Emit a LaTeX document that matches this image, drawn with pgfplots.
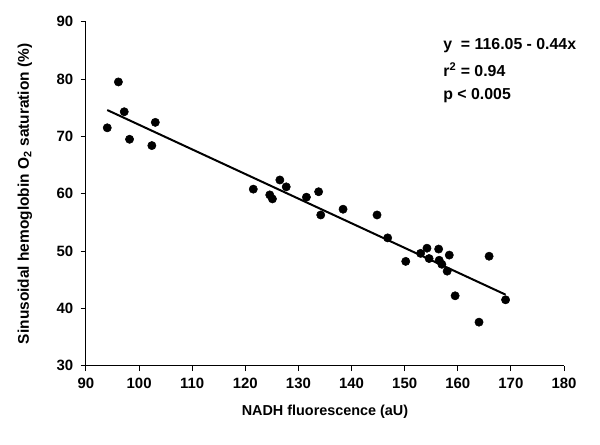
\documentclass[border=0pt]{standalone}
\usepackage{fontspec}
\setmainfont{Liberation Sans}
\usepackage{pgfplots}
\pgfplotsset{compat=1.18}
\begin{document}
\begin{tikzpicture}
\path[use as bounding box] (-64.5pt,-58.7pt) rectangle (385.5pt,274.3pt);
\begin{axis}[
  scale only axis,
  width=358.5pt, height=258pt,
  xmin=90, xmax=180, ymin=30, ymax=90,
  xtick={90,100,...,180}, ytick={30,40,...,90},
  axis x line*=bottom, axis y line*=left,
  axis line style={line width=0.75pt, -},
  tick style={line width=0.75pt, black},
  tick align=outside, major tick length=4pt,
  ticklabel style={font=\fontsize{11.2}{13}\selectfont\bfseries},
  /pgf/number format/assume math mode=true,
  xticklabel style={yshift=-2pt},
  yticklabel style={xshift=-2pt},
  xlabel={NADH fluorescence (aU)},
  ylabel={Sinusoidal hemoglobin O\textsubscript{2} saturation (\%)},
  xlabel style={font=\fontsize{10.8}{12}\selectfont\bfseries, at={(axis description cs:0.5,0)}, anchor=center, yshift=-34.7pt},
  ylabel style={font=\fontsize{11.6}{12}\selectfont\bfseries, at={([xshift=-45.75pt]axis description cs:0,0.5)}, anchor=center},
  clip=false,
]
\addplot[only marks, mark=*, mark size=3.1pt, black] coordinates {
(94.0,71.5) (96.1,79.5) (97.2,74.3) (98.2,69.5) (103.05,72.45) (102.4,68.4)
(121.5,60.8) (126.5,62.4) (127.7,61.2) (124.6,59.8) (125.1,59.1)
(131.5,59.4) (133.8,60.35) (134.2,56.3) (138.4,57.3) (144.8,56.3) (146.8,52.3)
(150.2,48.2) (153.0,49.6) (154.2,50.5) (154.6,48.7) (156.4,50.35) (156.5,48.4)
(157.0,47.7) (158.4,49.3) (158.0,46.5)
(165.9,49.1) (159.5,42.2) (169.0,41.5) (164.0,37.6)
};
\addplot[black, line width=1.5pt] coordinates {(94,74.6) (169,42.4)};
\node[anchor=west, font=\fontsize{11.9}{13}\selectfont\bfseries] at (axis cs:156.4,85.9) {y\ \ = 116.05 - 0.44x};
\node[anchor=west, font=\fontsize{11.9}{13}\selectfont\bfseries] at (axis cs:156.4,81.6) {r\textsuperscript{2} = 0.94};
\node[anchor=west, font=\fontsize{11.9}{13}\selectfont\bfseries] at (axis cs:156.4,77.2) {p < 0.005};
\end{axis}
\end{tikzpicture}
\end{document}
